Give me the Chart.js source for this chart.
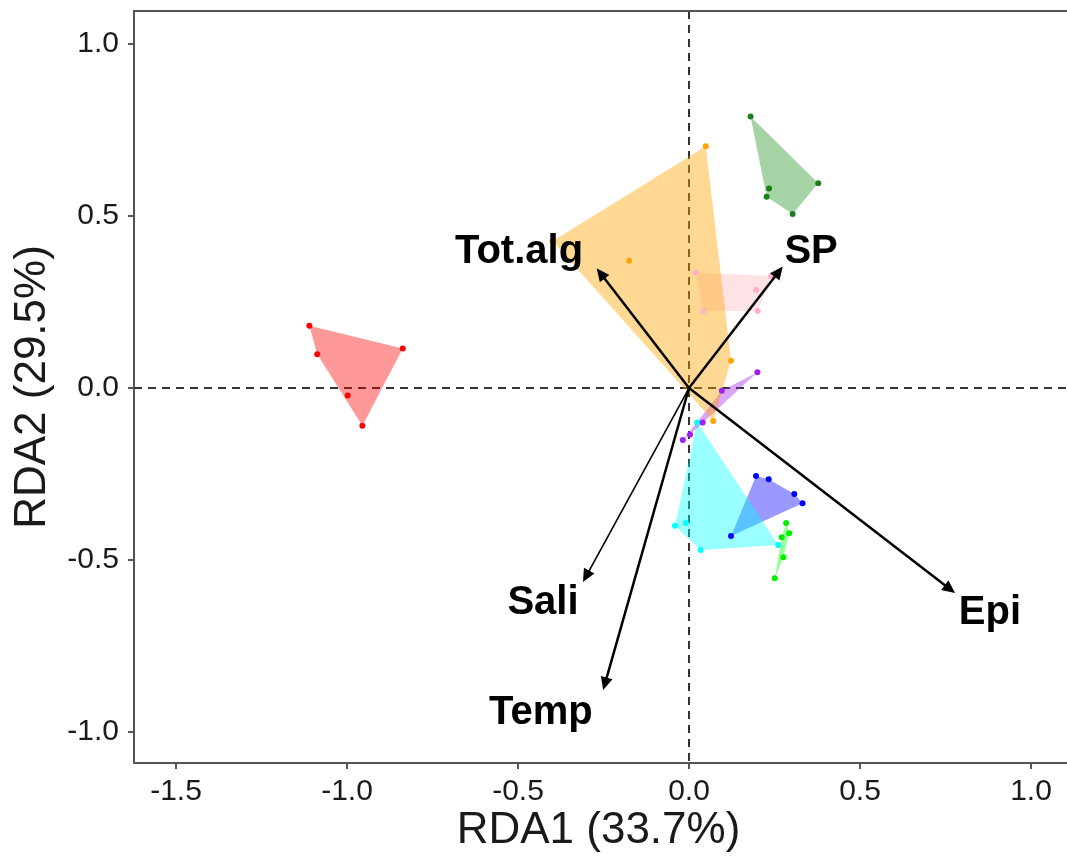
<!DOCTYPE html>
<html>
<head>
<meta charset="utf-8">
<script src="https://cdn.jsdelivr.net/npm/chart.js@4/dist/chart.umd.min.js"></script>
<style>
  html, body { margin: 0; padding: 0; background: #fff; }
  #wrap { width: 1067px; height: 857px; }
</style>
</head>
<body>
<div id="wrap"><canvas id="rda" width="1067" height="857"></canvas></div>
<script>
// Site scores (RDA1, RDA2) per group
const redSites    = [[-1.110, 0.181], [-0.837, 0.115], [-1.087, 0.098], [-0.998, -0.022], [-0.955, -0.110]];
const orangeSites = [[0.049, 0.703], [-0.399, 0.427], [-0.175, 0.370], [0.123, 0.079], [0.071, -0.096]];
const greenSites  = [[0.180, 0.789], [0.378, 0.595], [0.234, 0.580], [0.227, 0.556], [0.303, 0.506]];
const pinkSites   = [[0.020, 0.336], [0.240, 0.326], [0.196, 0.285], [0.042, 0.224], [0.201, 0.224]];
const purpleSites = [[0.200, 0.046], [0.096, -0.008], [0.040, -0.100], [0.003, -0.135], [-0.018, -0.151]];
const cyanSites   = [[0.024, -0.100], [-0.041, -0.400], [-0.009, -0.392], [0.034, -0.471], [0.261, -0.456]];
const blueSites   = [[0.196, -0.256], [0.233, -0.265], [0.308, -0.308], [0.332, -0.335], [0.123, -0.430]];
const limeSites   = [[0.284, -0.392], [0.293, -0.422], [0.271, -0.434], [0.276, -0.492], [0.251, -0.553]];

// Environmental vectors: arrow tips and label positions
const envNames  = ["Tot.alg", "SP", "Epi", "Sali", "Temp"];
const envTips   = [[-0.270, 0.348], [0.274, 0.353], [0.778, -0.596], [-0.310, -0.564], [-0.251, -0.878]];
const envLabels = [[-0.497, 0.395], [0.357, 0.395], [0.880, -0.654], [-0.427, -0.625], [-0.433, -0.945]];

const xTicks = [-1.5, -1.0, -0.5, 0.0, 0.5, 1.0];
const yTicks = [-1.0, -0.5, 0.0, 0.5, 1.0];

const groups = [
    { sites: redSites,    point: "#ff0000", fill: "rgba(255,0,0,0.4)" },
    { sites: orangeSites, point: "#ffa500", fill: "rgba(255,165,0,0.42)" },
    { sites: greenSites,  point: "#1b7f1b", fill: "rgba(0,128,0,0.35)" },
    { sites: pinkSites,   point: "#ffb0c4", fill: "rgba(255,182,193,0.4)" },
    { sites: purpleSites, point: "#a020f0", fill: "rgba(160,32,240,0.4)" },
    { sites: cyanSites,   point: "#00ffff", fill: "rgba(0,255,255,0.4)" },
    { sites: blueSites,   point: "#0000ff", fill: "rgba(0,0,255,0.4)" },
    { sites: limeSites,   point: "#00ee00", fill: "rgba(0,255,0,0.4)" },
];

// convex hull (monotone chain) so each group gets its polygon
function hull(pts) {
    const p = pts.map(([x, y]) => ({ x, y })).sort((a, b) => a.x - b.x || a.y - b.y);
    const cross = (o, a, b) => (a.x - o.x) * (b.y - o.y) - (a.y - o.y) * (b.x - o.x);
    const lower = [], upper = [];
    for (const q of p) {
        while (lower.length >= 2 && cross(lower[lower.length - 2], lower[lower.length - 1], q) <= 0) lower.pop();
        lower.push(q);
    }
    for (let i = p.length - 1; i >= 0; i--) {
        const q = p[i];
        while (upper.length >= 2 && cross(upper[upper.length - 2], upper[upper.length - 1], q) <= 0) upper.pop();
        upper.push(q);
    }
    upper.pop(); lower.pop();
    const h = lower.concat(upper);
    h.push(h[0]);
    return h;
}

const datasets = [];
groups.forEach((g) => {
    datasets.push({
        data: hull(g.sites),
        showLine: true,
        fill: "shape",
        backgroundColor: g.fill,
        borderWidth: 0,
        pointRadius: 0,
        order: 2,
    });
});
groups.forEach((g) => {
    datasets.push({
        data: g.sites.map(([x, y]) => ({ x, y })),
        showLine: false,
        pointRadius: 3,
        pointBackgroundColor: g.point,
        pointBorderWidth: 0,
        order: 1,
    });
});

// Dashed zero lines and top of the frame (the plot runs off the right edge)
const zeroLines = {
    id: "zeroLines",
    beforeDatasetsDraw(chart) {
        const { ctx, chartArea: a, scales } = chart;
        const x0 = scales.x.getPixelForValue(0);
        const y0 = scales.y.getPixelForValue(0);
        ctx.save();
        ctx.strokeStyle = "#333";
        ctx.lineWidth = 2;
        ctx.setLineDash([8, 6]);
        ctx.beginPath();
        ctx.moveTo(x0, a.top); ctx.lineTo(x0, a.bottom);
        ctx.moveTo(a.left, y0); ctx.lineTo(chart.width, y0);
        ctx.stroke();
        ctx.restore();
    },
    afterDraw(chart) {
        const { ctx, chartArea: a } = chart;
        ctx.save();
        ctx.strokeStyle = "#555";
        ctx.lineWidth = 2;
        ctx.beginPath();
        ctx.moveTo(a.left, a.top); ctx.lineTo(chart.width, a.top);
        ctx.moveTo(a.right, a.bottom); ctx.lineTo(chart.width, a.bottom);
        ctx.stroke();
        ctx.restore();
    },
};

// Biplot arrows with labels
const envArrows = {
    id: "envArrows",
    afterDatasetsDraw(chart) {
        const { ctx, scales } = chart;
        const x0 = scales.x.getPixelForValue(0);
        const y0 = scales.y.getPixelForValue(0);
        ctx.save();
        envTips.forEach(([tx, ty], i) => {
            const px = scales.x.getPixelForValue(tx);
            const py = scales.y.getPixelForValue(ty);
            const ang = Math.atan2(py - y0, px - x0);
            const head = 13, half = 6;
            ctx.strokeStyle = "#000";
            ctx.fillStyle = "#000";
            ctx.lineWidth = envNames[i] === "Sali" ? 1.6 : 2.5;
            ctx.beginPath();
            ctx.moveTo(x0, y0);
            ctx.lineTo(px - Math.cos(ang) * head * 0.7, py - Math.sin(ang) * head * 0.7);
            ctx.stroke();
            ctx.beginPath();
            ctx.moveTo(px, py);
            ctx.lineTo(px - Math.cos(ang) * head + Math.sin(ang) * half, py - Math.sin(ang) * head - Math.cos(ang) * half);
            ctx.lineTo(px - Math.cos(ang) * head - Math.sin(ang) * half, py - Math.sin(ang) * head + Math.cos(ang) * half);
            ctx.closePath();
            ctx.fill();
        });
        ctx.font = "bold 40px 'Liberation Sans', Arial, sans-serif";
        ctx.textAlign = "center";
        ctx.textBaseline = "middle";
        ctx.fillStyle = "#000";
        envLabels.forEach(([lx, ly], i) => {
            ctx.fillText(envNames[i], scales.x.getPixelForValue(lx), scales.y.getPixelForValue(ly));
        });
        ctx.restore();
    },
};

const axisFont = { family: "'Liberation Sans', Arial, sans-serif", size: 30 };
const titleFont = { family: "'Liberation Sans', Arial, sans-serif", size: 44 };

new Chart(document.getElementById("rda"), {
    type: "scatter",
    data: { datasets },
    options: {
        responsive: false,
        animation: false,
        layout: { padding: { top: 11, right: 0, left: 0, bottom: 0 } },
        plugins: { legend: { display: false }, tooltip: { enabled: false } },
        scales: {
            x: {
                type: "linear",
                min: -1.6228,
                max: 1.0936,
                afterBuildTicks: (s) => { s.ticks = xTicks.map((v) => ({ value: v })); },
                afterFit: (s) => { s.height = 94; s.paddingLeft = 0; s.paddingRight = 0; },
                ticks: {
                    font: axisFont,
                    color: "#1a1a1a",
                    padding: 5,
                    maxRotation: 0,
                    callback: (v) => Number(v).toFixed(1),
                },
                grid: { drawOnChartArea: false, drawTicks: true, tickLength: 6, color: "#555", lineWidth: 2 },
                border: { display: true, color: "#555", width: 2 },
                title: { display: true, text: "RDA1 (33.7%)", font: titleFont, color: "#1a1a1a", padding: { top: 0, bottom: 0 } },
            },
            y: {
                type: "linear",
                min: -1.090,
                max: 1.096,
                afterBuildTicks: (s) => { s.ticks = yTicks.map((v) => ({ value: v })); },
                afterFit: (s) => { s.width = 134; s.paddingTop = 0; s.paddingBottom = 0; },
                ticks: {
                    font: axisFont,
                    color: "#1a1a1a",
                    padding: 9,
                    callback: (v) => Number(v).toFixed(1),
                },
                grid: { drawOnChartArea: false, drawTicks: true, tickLength: 6, color: "#555", lineWidth: 2 },
                border: { display: true, color: "#555", width: 2 },
                title: { display: true, text: "RDA2 (29.5%)", font: titleFont, color: "#1a1a1a", padding: { top: 6, bottom: 0 } },
            },
        },
    },
    plugins: [zeroLines, envArrows],
});
</script>
</body>
</html>
